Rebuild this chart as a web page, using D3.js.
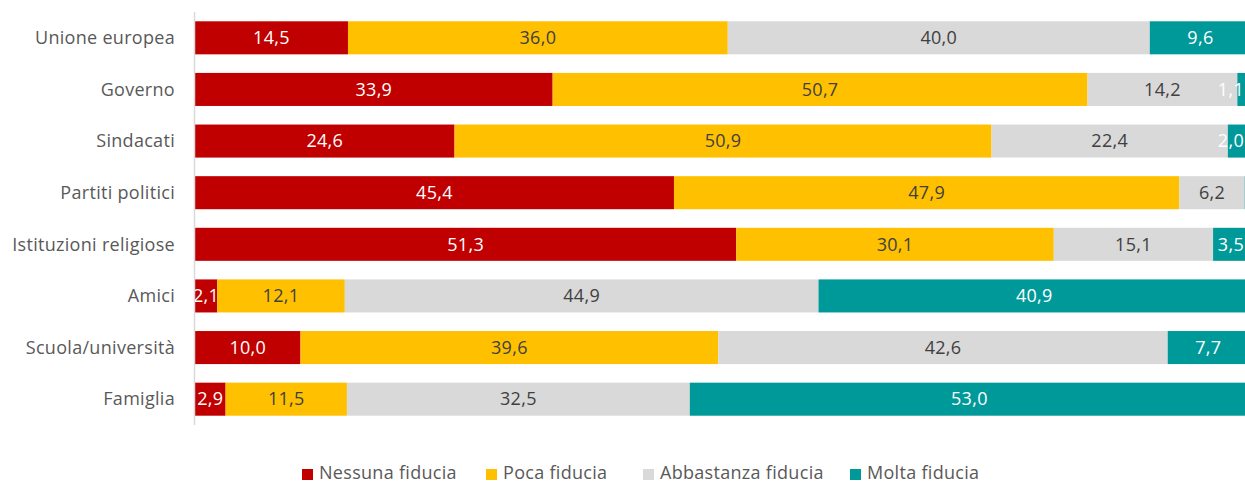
<!DOCTYPE html>
<html>
<head>
<meta charset="utf-8">
<script src="https://cdn.jsdelivr.net/npm/d3@7"></script>
<style>
  body { margin: 0; background: #fff; }
  svg { display: block; font-family: "Open Sans", "Noto Sans", sans-serif; letter-spacing: 0.3px; }
</style>
</head>
<body>
<div id="chart"></div>
<script>
var categories = ["Unione europea", "Governo", "Sindacati", "Partiti politici",
                  "Istituzioni religiose", "Amici", "Scuola/università", "Famiglia"];
var seriesNames = ["Nessuna fiducia", "Poca fiducia", "Abbastanza fiducia", "Molta fiducia"];
var nessuna  = [14.5, 33.9, 24.6, 45.4, 51.3, 2.1, 10.0, 2.9];
var poca     = [36.0, 50.7, 50.9, 47.9, 30.1, 12.1, 39.6, 11.5];
var abbast   = [40.0, 14.2, 22.4, 6.2, 15.1, 44.9, 42.6, 32.5];
var molta    = [9.6, 1.1, 2.0, 0.5, 3.5, 40.9, 7.7, 53.0];
var colors = ["#C00000", "#FFC000", "#D9D9D9", "#009999"];
var textColors = ["#ffffff", "#404040", "#404040", "#ffffff"];

var width = 1245, height = 484;

var svg = d3.select("#chart").append("svg")
    .attr("width", width)
    .attr("height", height);

var rows = categories.map(function(c, i) {
  return {cat: c, "Nessuna fiducia": nessuna[i], "Poca fiducia": poca[i],
          "Abbastanza fiducia": abbast[i], "Molta fiducia": molta[i]};
});

var stack = d3.stack().keys(seriesNames);
var series = stack(rows);

var x = d3.scaleLinear().domain([0, 100]).range([195, 1250]);
var y = d3.scaleBand().domain(categories).range([12, 425]).paddingInner(0.36).paddingOuter(0.18);

// category labels
svg.append("g").selectAll("text").data(categories).enter().append("text")
    .attr("x", 175)
    .attr("y", function(d) { return y(d) + y.bandwidth() / 2; })
    .attr("dy", "0.35em")
    .attr("text-anchor", "end")
    .attr("fill", "#595959")
    .attr("font-size", "18px")
    .text(function(d) { return d; });

var groups = svg.selectAll("g.series").data(series).enter().append("g")
    .attr("class", "series")
    .attr("fill", function(d, i) { return colors[i]; });

groups.selectAll("rect").data(function(d) { return d; }).enter().append("rect")
    .attr("x", function(d) { return x(d[0]); })
    .attr("y", function(d) { return y(d.data.cat); })
    .attr("width", function(d) { return x(d[1]) - x(d[0]); })
    .attr("height", y.bandwidth());

groups.each(function(s, si) {
  // tiny segments at the clipped edge get no label
  var labelled = s.filter(function(d) { return x(d[0]) < width - 2; });
  d3.select(this).selectAll("text").data(labelled).enter().append("text")
      .attr("y", function(d) { return y(d.data.cat) + y.bandwidth() / 2; })
      .attr("dy", "0.35em")
      .attr("text-anchor", "middle")
      .attr("fill", textColors[si])
      .attr("font-size", "18px")
      .text(function(d) { return d3.format(".1f")(d[1] - d[0]).replace(".", ","); })
      .attr("x", function(d) {
        var cx = (x(d[0]) + x(d[1])) / 2;
        var half = this.getComputedTextLength() / 2;
        return Math.min(cx, width - half - 1);
      });
});

// axis line
svg.append("line")
    .attr("x1", 194.5).attr("x2", 194.5)
    .attr("y1", 12).attr("y2", 425)
    .attr("stroke", "#D9D9D9")
    .attr("stroke-width", 1.5);

// legend
var legendX = [302, 486, 643, 850];
var legend = svg.append("g").selectAll("g").data(seriesNames).enter().append("g")
    .attr("transform", function(d, i) { return "translate(" + legendX[i] + ",473)"; });
legend.append("rect")
    .attr("x", 0).attr("y", -4)
    .attr("width", 11).attr("height", 11)
    .attr("fill", function(d, i) { return colors[i]; });
legend.append("text")
    .attr("x", 17).attr("dy", "0.35em")
    .attr("fill", "#595959")
    .attr("font-size", "18px")
    .text(function(d) { return d; });
</script>
</body>
</html>
